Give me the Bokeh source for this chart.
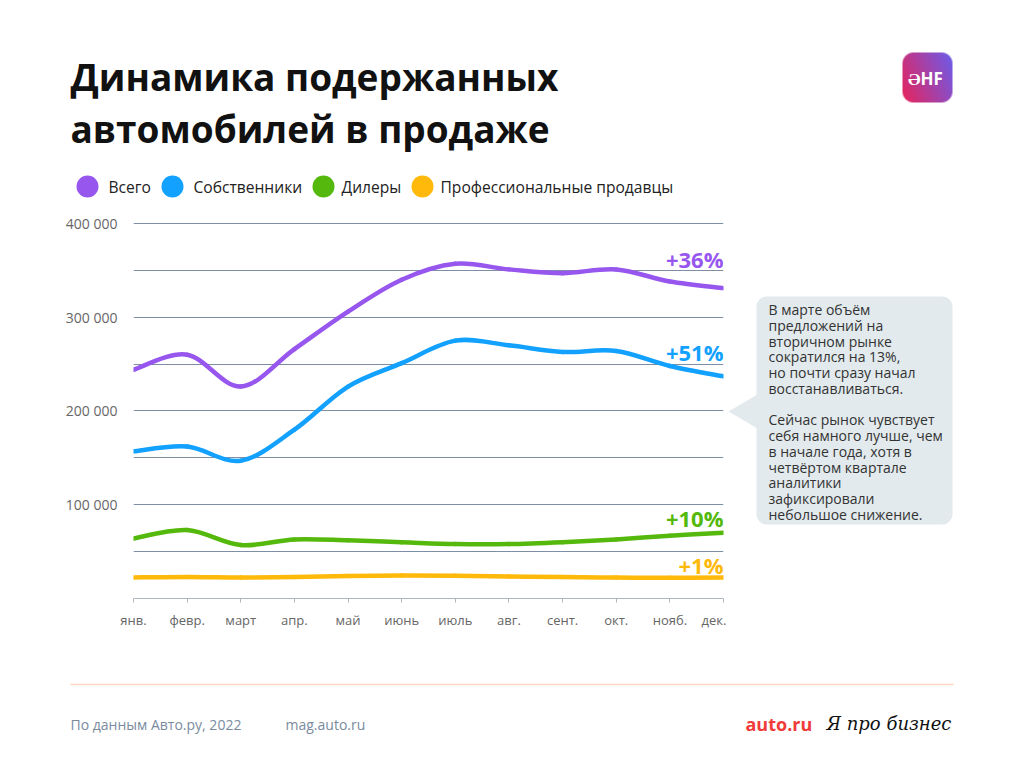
import numpy as np
from bokeh.plotting import figure
from bokeh.layouts import column, row
from bokeh.models import Range1d, FixedTicker, Label, ColumnDataSource
from bokeh.core.properties import value
from bokeh.embed import file_html
from bokeh.resources import INLINE

# ---------------- data ----------------
months = ["янв.", "февр.", "март", "апр.", "май", "июнь", "июль", "авг.", "сент.", "окт.", "нояб.", "дек."]
total = [244000, 260000, 226000, 266000, 306000, 340000, 357000, 351000, 347000, 351000, 338000, 331000]
owners = [157000, 162000, 147000, 180000, 226000, 251000, 275000, 270000, 263000, 264000, 248000, 237000]
dealers = [64000, 73000, 57000, 63000, 62000, 60000, 58000, 58000, 60000, 63000, 67000, 70000]
pros = [22400, 23000, 22400, 22800, 24000, 24500, 24200, 23500, 22800, 22400, 22000, 22400]
series_names = ["Всего", "Собственники", "Дилеры", "Профессиональные продавцы"]
changes = ["+36%", "+51%", "+10%", "+1%"]
y_ticks = [100000, 200000, 300000, 400000]
y_tick_labels = ["100 000", "200 000", "300 000", "400 000"]
grid_ticks = [50000, 100000, 150000, 200000, 250000, 300000, 350000, 400000]

title_lines = ["Динамика подержанных", "автомобилей в продаже"]
note_lines = ["В марте объём", "предложений на", "вторичном рынке", "сократился на 13%,",
              "но почти сразу начал", "восстанавливаться.", "", "Сейчас рынок чувствует",
              "себя намного лучше, чем", "в начале года, хотя в", "четвёртом квартале",
              "аналитики", "зафиксировали", "небольшое снижение."]
source_text = "По данным Авто.ру, 2022"
site_text = "mag.auto.ru"
brand_text = "auto.ru"
media_text = "Я про бизнес"
logo_text = "ƏHF"

# ---------------- styles ----------------
colors = ["#9757EE", "#13A1FF", "#55B80C", "#FFB90A"]
FONT = "Open Sans"
W, H = 1024, 768
HEAD_H, MID_H = 200, 440
MAIN_W = 726
BORDER_T, BORDER_B = 22, 42


def aux(w, h, xr, yr, bt=0, bb=0):
    f = figure(width=w, height=h, x_range=Range1d(*xr), y_range=Range1d(*yr),
               output_backend="svg", toolbar_location=None, x_axis_type=None, y_axis_type=None,
               min_border_left=0, min_border_right=0, min_border_top=bt, min_border_bottom=bb)
    f.outline_line_color = None
    f.background_fill_color = "white"
    f.border_fill_color = "white"
    return f


# ---------------- main chart ----------------
p = figure(width=MAIN_W, height=MID_H, output_backend="svg", toolbar_location=None,
           x_range=Range1d(0, 11), y_range=Range1d(0, 401000),
           min_border_left=133, min_border_right=3, min_border_top=BORDER_T, min_border_bottom=BORDER_B)
p.background_fill_color = "white"
p.border_fill_color = "white"
p.outline_line_color = None

p.xaxis.ticker = FixedTicker(ticks=list(range(len(months))))
p.xaxis.major_label_overrides = {i: m for i, m in enumerate(months)}
p.xaxis.axis_line_color = "#AEB7C0"
p.xaxis.major_tick_line_color = "#AEB7C0"
p.xaxis.major_tick_out = 4
p.xaxis.major_tick_in = 0
p.xaxis.minor_tick_line_color = None
p.xaxis.major_label_standoff = 8
p.xaxis.major_label_text_font = FONT
p.xaxis.major_label_text_font_size = "13px"
p.xaxis.major_label_text_color = "#666666"

p.yaxis.ticker = FixedTicker(ticks=y_ticks)
p.yaxis.major_label_overrides = {t: l for t, l in zip(y_ticks, y_tick_labels)}
p.yaxis.axis_line_color = None
p.yaxis.major_tick_line_color = None
p.yaxis.minor_tick_line_color = None
p.yaxis.major_label_standoff = 10
p.yaxis.major_label_text_font = FONT
p.yaxis.major_label_text_font_size = "14px"
p.yaxis.major_label_text_color = "#666666"

p.xgrid.grid_line_color = None
p.ygrid.ticker = FixedTicker(ticks=grid_ticks)
p.ygrid.grid_line_color = "#7E8FA5"
p.ygrid.grid_line_width = 1


def bezier_source(ys):
    """Smooth curve through the data points (Catmull-Rom as cubic Bezier segments)."""
    n = len(ys)
    xs = list(range(n))
    d = dict(x0=[], y0=[], x1=[], y1=[], cx0=[], cy0=[], cx1=[], cy1=[])
    for i in range(n - 1):
        a = max(i - 1, 0)
        b = min(i + 2, n - 1)
        d["x0"].append(xs[i]); d["y0"].append(ys[i])
        d["x1"].append(xs[i + 1]); d["y1"].append(ys[i + 1])
        d["cx0"].append(xs[i] + (xs[i + 1] - xs[a]) / 6)
        d["cy0"].append(ys[i] + (ys[i + 1] - ys[a]) / 6)
        d["cx1"].append(xs[i + 1] - (xs[b] - xs[i]) / 6)
        d["cy1"].append(ys[i + 1] - (ys[b] - ys[i]) / 6)
    return ColumnDataSource(d)


all_series = [total, owners, dealers, pros]
for ys, c in zip(reversed(all_series), reversed(colors)):
    p.bezier(x0="x0", y0="y0", x1="x1", y1="y1", cx0="cx0", cy0="cy0", cx1="cx1", cy1="cy1",
             source=bezier_source(ys), line_color=c, line_width=4.5, line_cap="round")

label_offsets = [29, 24, 15, 12]
for ys, c, t, dy in zip(all_series, colors, changes, label_offsets):
    p.add_layout(Label(x=len(months) - 1, y=ys[-1], text=t, y_offset=dy,
                       text_align="right", text_baseline="middle", text_color=c,
                       text_font=FONT, text_font_style="bold", text_font_size="22px"))

# ---------------- header: title, legend, logo (page coordinates) ----------------
head = aux(W, HEAD_H, (0, W), (HEAD_H, 0))
head.text(x=[70, 70], y=[76, 128], text=title_lines, text_font=value(FONT), text_font_style="bold",
          text_font_size="37px", text_color="#111111", text_baseline="alphabetic")
legend_circle_x = [87, 172, 323, 422]
legend_text_x = [108, 193, 341, 440]
head.scatter(x=legend_circle_x, y=[186] * 4, size=22, marker="circle", fill_color=colors, line_color=None)
head.text(x=legend_text_x, y=[186] * 4, text=series_names, text_font=value(FONT), text_font_size="15.6px",
          text_color="#222222", text_baseline="middle")

# logo: rounded square with a pink-to-violet gradient
n = 50
rr, cc = np.mgrid[0:n, 0:n]
t = np.clip(0.7 * cc / (n - 1) + 0.3 * (1 - rr / (n - 1)), 0, 1)
c0 = np.array([232, 36, 92])
c1 = np.array([108, 92, 235])
rgb = (c0[None, None, :] * (1 - t[..., None]) + c1[None, None, :] * t[..., None]).astype(np.uint32)
rad = 11
dx = np.maximum(np.maximum(rad - cc - 0.5, cc + 0.5 - (n - rad)), 0)
dy = np.maximum(np.maximum(rad - rr - 0.5, rr + 0.5 - (n - rad)), 0)
alpha = np.clip(rad + 0.5 - np.sqrt(dx ** 2 + dy ** 2), 0, 1) * 255
img = (rgb[..., 0] | (rgb[..., 1] << 8) | (rgb[..., 2] << 16) | (alpha.astype(np.uint32) << 24))
head.image_rgba(image=[img], x=902, y=52, dw=50, dh=50)
head.text(x=[925], y=[78], text=[logo_text], text_font=value(FONT), text_font_size="17px",
          text_font_style="bold", text_color="white", text_align="center", text_baseline="middle")

# ---------------- side: callout (page coordinates, frame aligned with main chart) ----------------
top_px = HEAD_H + BORDER_T
bot_px = HEAD_H + MID_H - BORDER_B
side = aux(W - MAIN_W, MID_H, (MAIN_W, W), (bot_px, top_px), BORDER_T, BORDER_B)
side.patch(x=[728, 757, 757], y=[411, 394, 428], fill_color="#E2EAED", line_color=None)
side.quad(left=[756], right=[952], top=[296], bottom=[524], fill_color="#E2EAED", line_color=None,
          border_radius=10)
note_y = [309 + 15.77 * i for i in range(len(note_lines))]
side.text(x=[768] * len(note_lines), y=note_y, text=note_lines, text_font=value(FONT),
          text_font_size="14px", text_color="#333333", text_baseline="middle")

# ---------------- footer (page coordinates) ----------------
foot = aux(W, H - HEAD_H - MID_H, (0, W), (H, HEAD_H + MID_H))
foot.segment(x0=[70], y0=[684], x1=[953], y1=[684], line_color="#FFD8BF", line_width=1.3)
foot.text(x=[70, 285], y=[724, 724], text=[source_text, site_text], text_font=value(FONT),
          text_font_size="14px", text_color="#7A8B9E", text_baseline="middle")
foot.text(x=[745], y=[723], text=[brand_text], text_font=value(FONT), text_font_size="18px",
          text_font_style="bold", text_color="#F03B3B", text_baseline="middle")
foot.text(x=[826], y=[723], text=[media_text], text_font=value("DejaVu Serif"), text_font_size="18px",
          text_font_style="italic", text_color="#111111", text_baseline="middle")

layout = column(head, row(p, side), foot)
open("out.html", "w").write(file_html(layout, INLINE))
